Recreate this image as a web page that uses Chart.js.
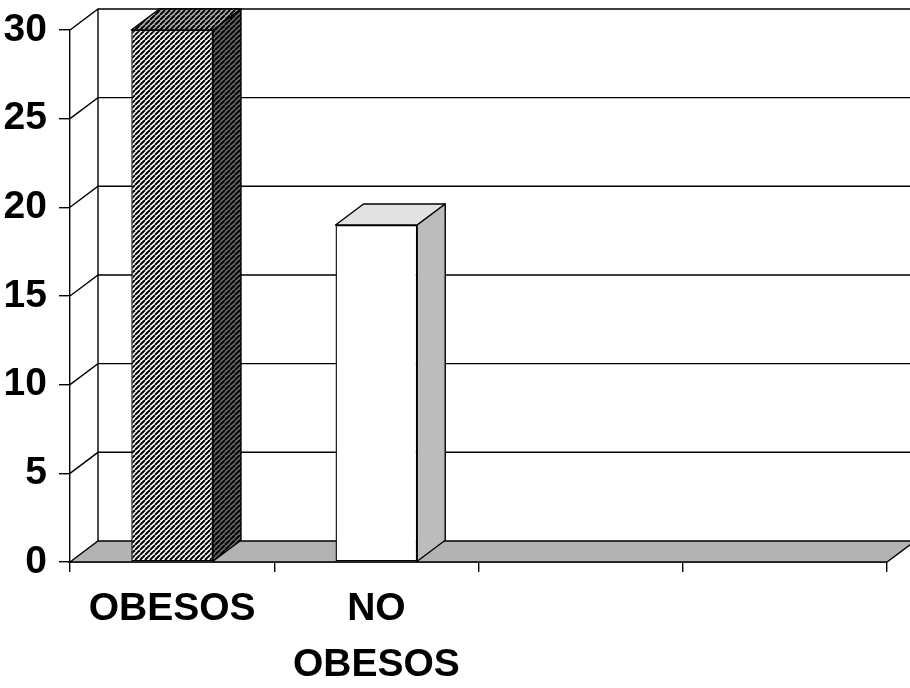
<!DOCTYPE html>
<html>
<head>
<meta charset="utf-8">
<script src="https://cdn.jsdelivr.net/npm/chart.js@4/dist/chart.umd.min.js"></script>
<style>
  html, body { margin: 0; padding: 0; background: #fff; }
  #wrap { width: 910px; height: 688px; }
</style>
</head>
<body>
<div id="wrap"><canvas id="chart" width="910" height="688"></canvas></div>
<script>
// Categories along the floor (two empty slots keep the floor long)
const categories = ['OBESOS', ['NO', 'OBESOS'], '', ''];
// Number of patients in each group
const patients = [30, 19, null, null];
// Value axis range and step
const yMin = 0;
const yMax = 30;
const yStep = 5;

// Depth offset of the 3D box (pixels)
const DX = 28, DY = -21;
const FONT = "'Liberation Sans', Arial, Helvetica, sans-serif";

// Diagonal hatch tile: black "/" strokes over a background colour
function hatch(bg, lw) {
  const s = 5;
  const c = document.createElement('canvas');
  c.width = s; c.height = s;
  const g = c.getContext('2d');
  g.fillStyle = bg;
  g.fillRect(0, 0, s, s);
  g.strokeStyle = '#000';
  g.lineWidth = lw;
  g.beginPath();
  for (let k = -1; k <= 1; k++) {
    g.moveTo(k * s, s);
    g.lineTo(k * s + s, 0);
  }
  g.stroke();
  return g.createPattern(c, 'repeat');
}

const ctx0 = document.getElementById('chart').getContext('2d');
const frontFill = [hatch('#ffffff', 2.0), '#ffffff'];
const topFill = [hatch('#b4b4b4', 2.0), '#e2e2e2'];
const sideFill = [hatch('#6a6a6a', 2.0), '#bcbcbc'];

function poly(ctx, pts, fill) {
  ctx.beginPath();
  ctx.moveTo(pts[0][0], pts[0][1]);
  for (let i = 1; i < pts.length; i++) ctx.lineTo(pts[i][0], pts[i][1]);
  ctx.closePath();
  if (fill) { ctx.fillStyle = fill; ctx.fill(); }
  ctx.stroke();
}

// Walls, floor and the depth faces of each column
const box3d = {
  id: 'box3d',
  beforeDatasetsDraw(chart) {
    const { ctx, chartArea: a, scales: { y } } = chart;
    const y0 = y.getPixelForValue(yMin);
    ctx.save();
    ctx.strokeStyle = '#000';
    ctx.lineWidth = 1.4;
    // back wall grid lines and left wall diagonals
    y.ticks.forEach(t => {
      const py = y.getPixelForValue(t.value);
      if (t.value === yMin) return;
      ctx.beginPath();
      ctx.moveTo(a.left, py);
      ctx.lineTo(a.left + DX, py + DY);
      ctx.lineTo(a.right + DX, py + DY);
      ctx.stroke();
    });
    // back wall left edge
    ctx.beginPath();
    ctx.moveTo(a.left + DX, y.getPixelForValue(yMax) + DY);
    ctx.lineTo(a.left + DX, y0 + DY);
    ctx.stroke();
    // floor
    poly(ctx, [[a.left, y0], [a.right, y0], [a.right + DX, y0 + DY], [a.left + DX, y0 + DY]], '#b3b3b3');
    ctx.restore();
  },
  afterDatasetsDraw(chart) {
    const { ctx } = chart;
    const meta = chart.getDatasetMeta(0);
    ctx.save();
    ctx.strokeStyle = '#000';
    ctx.lineWidth = 1.4;
    ctx.lineJoin = 'round';
    meta.data.forEach((bar, i) => {
      if (patients[i] == null) return;
      const p = bar.getProps(['x', 'y', 'base', 'width'], true);
      const l = p.x - p.width / 2, r = p.x + p.width / 2;
      poly(ctx, [[l, p.y], [r, p.y], [r + DX, p.y + DY], [l + DX, p.y + DY]], topFill[i]);
      poly(ctx, [[r, p.y], [r + DX, p.y + DY], [r + DX, p.base + DY], [r, p.base]], sideFill[i]);
    });
    ctx.restore();
  }
};

new Chart(ctx0, {
  type: 'bar',
  data: {
    labels: categories,
    datasets: [{
      data: patients,
      backgroundColor: frontFill,
      borderColor: '#000',
      borderWidth: 1.4,
      borderSkipped: false,
      categoryPercentage: 1,
      barPercentage: 0.4
    }]
  },
  options: {
    responsive: false,
    animation: false,
    layout: { padding: { top: 25, right: 23, left: 0, bottom: 0 } },
    plugins: { legend: { display: false }, tooltip: { enabled: false } },
    scales: {
      x: {
        offset: true,
        grid: { drawOnChartArea: false, drawTicks: true, tickLength: 10, color: '#000', lineWidth: 1.4, offset: true },
        border: { display: true, color: '#000', width: 1.4 },
        ticks: {
          color: '#000', padding: 10, maxRotation: 0, autoSkip: false,
          font: { family: FONT, size: 39, weight: 'bold', lineHeight: 1.42 }
        },
        afterFit(scale) { scale.height = 126; }
      },
      y: {
        min: yMin, max: yMax,
        grid: { drawOnChartArea: false, drawTicks: true, tickLength: 11, color: '#000', lineWidth: 1.4 },
        border: { display: true, color: '#000', width: 1.4 },
        ticks: {
          stepSize: yStep, color: '#000', padding: 12,
          font: { family: FONT, size: 39, weight: 'bold', lineHeight: 0.92 }
        },
        afterFit(scale) { scale.width = 70; }
      }
    }
  },
  plugins: [box3d]
});
</script>
</body>
</html>
